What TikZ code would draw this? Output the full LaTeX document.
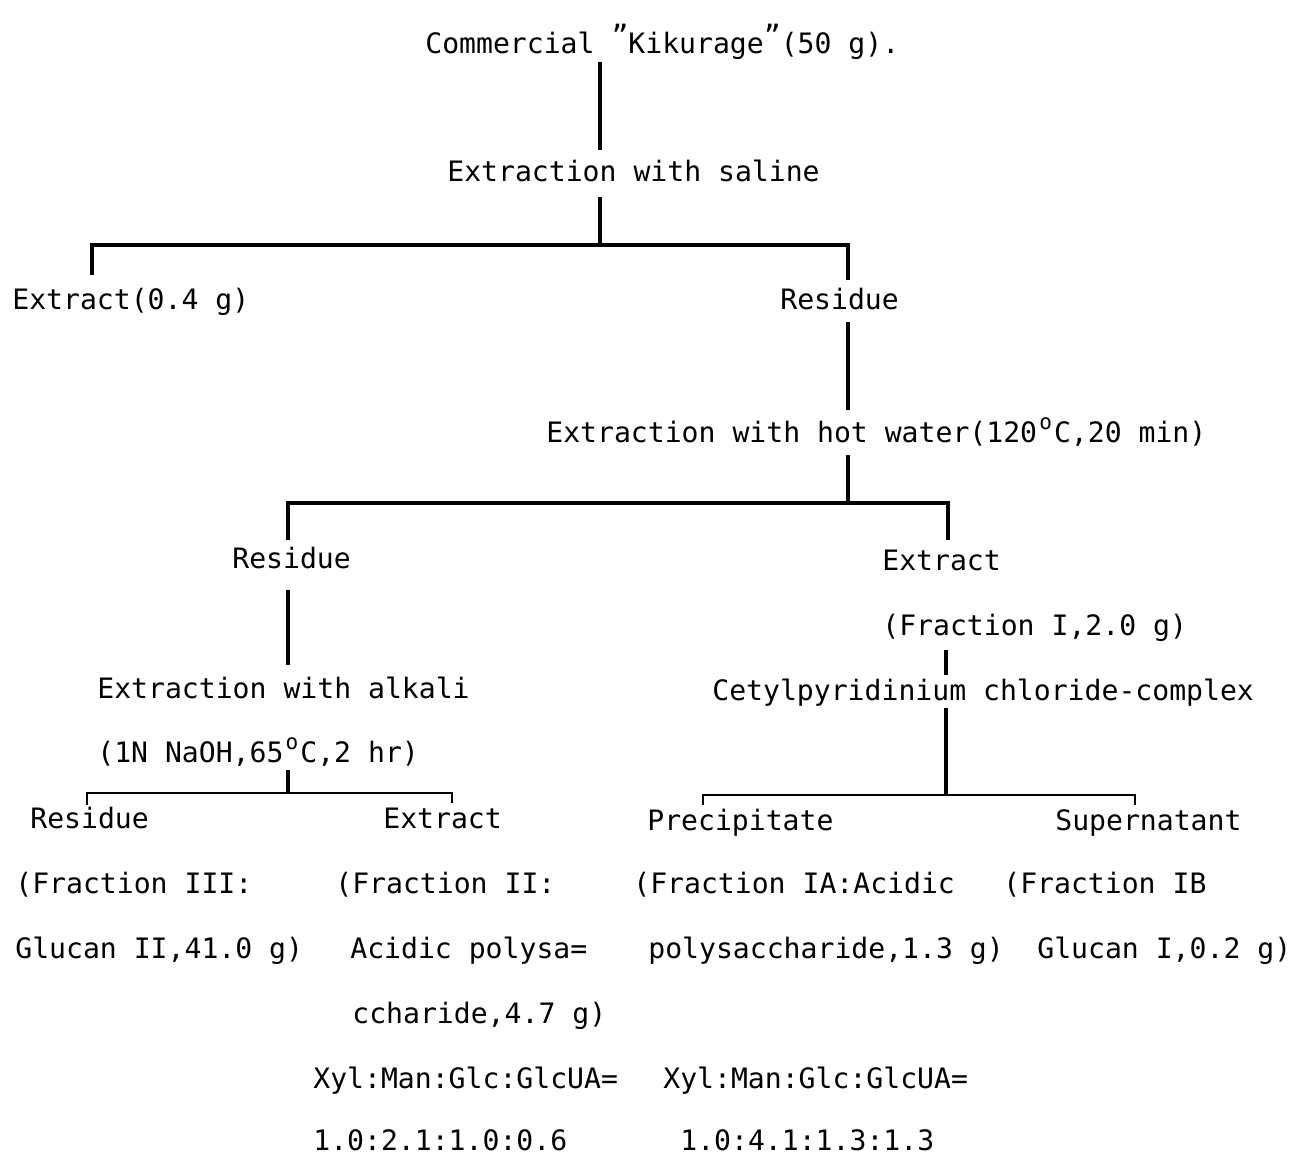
\documentclass[tikz,border=0pt]{standalone}
\usepackage{fontspec}
\setmainfont{DejaVu Sans Mono}
\newcommand\upq{\raisebox{5pt}{"}}
\newcommand\degr{\makebox[0.6em]{\raisebox{0.45em}{\fontsize{12}{12}\selectfont o}}}

\begin{document}
\begin{tikzpicture}[x=0.02cm,y=-0.02cm,
  txt/.style={inner sep=0pt,anchor=base west,text height=12pt,text depth=3pt,font=\fontsize{16}{18}\selectfont},
  last/.style={txt,text depth=0pt},
  link/.style={line width=1.8pt},
  tick/.style={line width=1.1pt}
  ]
  \useasboundingbox (0,0) rectangle (1298,1155);

  % top of the scheme
  \node[txt] (top) at (425,54) {Commercial \upq{}Kikurage\upq{}(50 g).};
  \node[txt] (saline) at (447,182) {Extraction with saline};
  \node[txt] (ext1) at (12,310) {Extract(0.4 g)};
  \node[txt] (res1) at (780,310) {Residue};
  \node[txt] (hot) at (546,442) {Extraction with hot water(120\degr{}C,20 min)};

  % second split
  \node[txt] (res2) at (232,568) {Residue};
  \node[txt] (ext2) at (882,570) {Extract};
  \node[txt] (fracI) at (882,635) {(Fraction I,2.0 g)};
  \node[txt] (alkali) at (97,698) {Extraction with alkali};
  \node[txt] (naoh) at (97,762) {(1N NaOH,65\degr{}C,2 hr)};
  \node[txt] (cetyl) at (712,700) {Cetylpyridinium chloride-complex};

  % fractions
  \node[txt] (res3) at (30,828) {Residue};
  \node[txt] (ext3) at (383,828) {Extract};
  \node[txt] (prec) at (647,830) {Precipitate};
  \node[txt] (super) at (1055,830) {Supernatant};

  \node[txt] (fIIIa) at (15,893) {(Fraction III:};
  \node[txt] (fIIa) at (335,893) {(Fraction II:};
  \node[txt] (fIAa) at (633,893) {(Fraction IA:Acidic};
  \node[txt] (fIBa) at (1003,893) {(Fraction IB};
  \node[txt] (fIIIb) at (15,958) {Glucan II,41.0 g)};
  \node[txt] (fIIb) at (350,958) {Acidic polysa=};
  \node[txt] (fIAb) at (648,958) {polysaccharide,1.3 g)};
  \node[txt] (fIBb) at (1037,958) {Glucan I,0.2 g)};
  \node[txt] (fIIc) at (352,1023) {ccharide,4.7 g)};
  \node[txt] (ratioII) at (313,1088) {Xyl:Man:Glc:GlcUA=};
  \node[txt] (ratioIA) at (663,1088) {Xyl:Man:Glc:GlcUA=};
  \node[last] (valII) at (313,1150) {1.0:2.1:1.0:0.6};
  \node[last] (valIA) at (680,1150) {1.0:4.1:1.3:1.3};

  % split points
  \coordinate (s1) at (600,245);
  \coordinate (s1l) at (92,245);
  \coordinate (s1r) at (848,245);
  \coordinate (s2) at (848,503);
  \coordinate (s2l) at (288,503);
  \coordinate (s2r) at (948,503);
  \coordinate (s3) at (288,793);
  \coordinate (s3l) at (87,793);
  \coordinate (s3r) at (452,793);
  \coordinate (s4) at (946,795);
  \coordinate (s4l) at (703,795);
  \coordinate (s4r) at (1135,795);

  \draw[link,shorten <=1.5pt,shorten >=6pt] (top.south -| s1) -- (saline.north -| s1);
  \draw[link,shorten <=5.5pt] (saline.south -| s1) -- (s1);
  \draw[link,shorten <=8pt,shorten >=5pt] (ext1.north -| s1l) |- (s1) -| (res1.north -| s1r);

  \draw[link,shorten <=3.8pt,shorten >=6pt] (res1.south -| s1r) -- (hot.north -| s1r);
  \draw[link,shorten <=4.4pt] (hot.south -| s2) -- (s2);
  \draw[link,shorten <=4pt,shorten >=5pt] (res2.north -| s2l) |- (s2) -| (ext2.north -| s2r);

  \draw[link,shorten <=9.5pt,shorten >=6.8pt] (res2.south -| s2l) -- (alkali.north -| s2l);
  \draw[link,shorten <=1.5pt] (naoh.south -| s3) -- (s3);
  \draw[tick,shorten <=1pt,shorten >=2pt] (res3.north -| s3l) |- (s3) -| (ext3.north -| s3r);

  \draw[link,shorten <=5.5pt,shorten >=2.2pt] (fracI.south -| s4) -- (cetyl.north -| s4);
  \draw[link,shorten <=1.5pt] (cetyl.south -| s4) -- (s4);
  \draw[tick,shorten <=2pt,shorten >=2pt] (prec.north -| s4l) |- (s4) -| (super.north -| s4r);
\end{tikzpicture}
\end{document}
